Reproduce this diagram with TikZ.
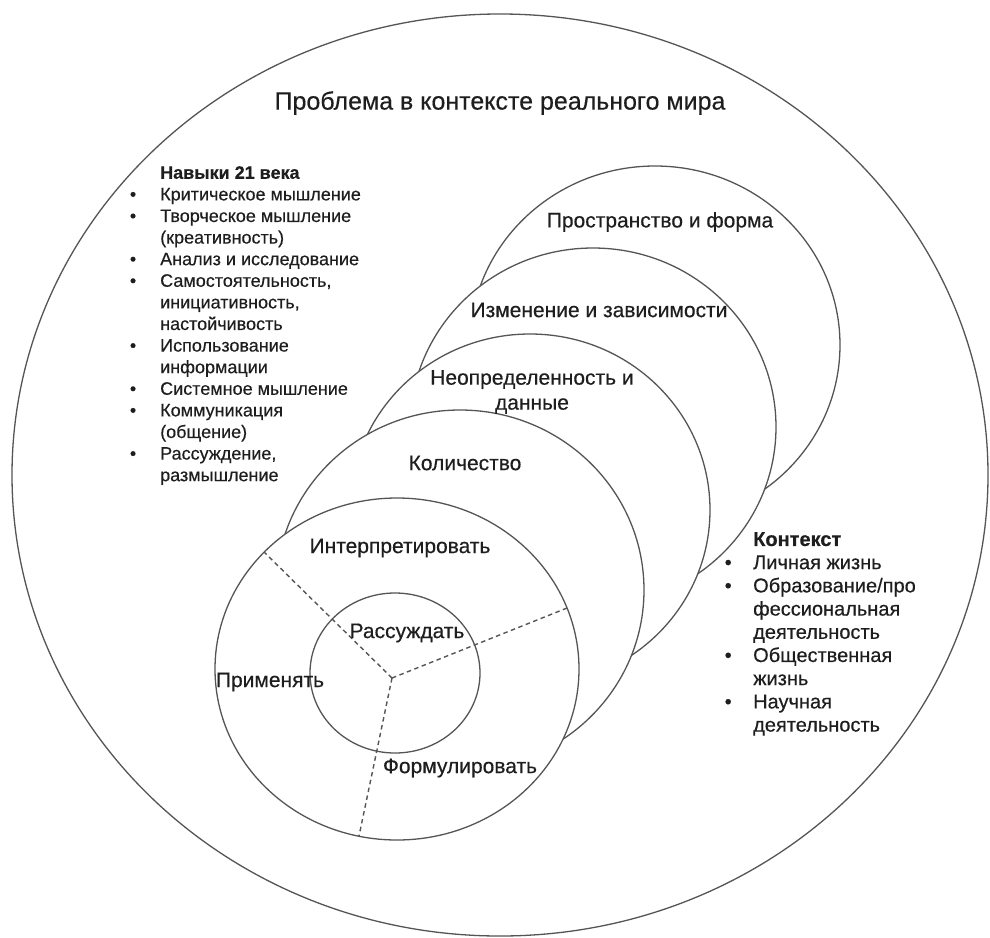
\documentclass[tikz,border=0pt]{standalone}
\usepackage{fontspec}
\setmainfont{Liberation Sans}[FakeBold=0.35]
\definecolor{ink}{HTML}{1E1E1E}
\definecolor{linegray}{HTML}{555555}
\newcommand{\lbul}{\llap{\textbullet\hspace{24pt}}}
\newcommand{\cbul}{\llap{\textbullet\hspace{21.5pt}}}
\begin{document}
\begin{tikzpicture}[x=1pt,y=-1pt,
  ring/.style={draw=linegray, line width=1.3pt, fill=white},
  divider/.style={draw=linegray, line width=1.4pt, dash pattern=on 4.5pt off 3.5pt},
  lbl/.style={inner sep=0pt, text=ink, font=\fontsize{21}{25}\selectfont},
  title/.style={inner sep=0pt, text=ink, font=\fontsize{25}{29}\selectfont},
  skills/.style={inner sep=0pt, text=ink, align=left, anchor=north west, font=\fontsize{18}{21.6}\selectfont},
  ctxlist/.style={inner sep=0pt, text=ink, align=left, anchor=north west, font=\fontsize{20}{23.2}\selectfont}
]
\useasboundingbox (0,0) rectangle (990,937);
\fill[white] (0,0) rectangle (990,937);

% outer circle: real-world context
\draw[ring] (500,475) ellipse [x radius=488pt, y radius=461pt];

% content circles
\draw[ring] (655,345) ellipse [x radius=185pt, y radius=179pt];
\draw[ring] (593,427) ellipse [x radius=183pt, y radius=179pt];
\draw[ring] (530,510) ellipse [x radius=180pt, y radius=176pt];
\draw[ring] (460,590) ellipse [x radius=184pt, y radius=180pt];

% process circles
\draw[ring] (397,669) ellipse [x radius=182pt, y radius=171pt];
\draw[ring] (395,673) ellipse [x radius=85pt, y radius=80pt];

% dividers
\coordinate (ctr) at (392,678);
\coordinate (dA) at (264,552);
\coordinate (dB) at (567,608);
\coordinate (dC) at (359,836);
\draw[divider] (ctr) -- (dA);
\draw[divider] (ctr) -- (dB);
\draw[divider] (ctr) -- (dC);

% labels
\node[title] (head) at (500,103) {Проблема в контексте реального мира};
\node[lbl] (space) at (660,222) {Пространство и форма};
\node[lbl] (change) at (599,310) {Изменение и зависимости};
\node[lbl, align=center] (uncert) at (532,392) {Неопределенность и\\данные};
\node[lbl] (quant) at (465,463) {Количество};
\node[lbl] (interp) at (400,548) {Интерпретировать};
\node[lbl] (reason) at (407,633) {Рассуждать};
\node[lbl] (employ) at (270,682) {Применять};
\node[lbl] (formul) at (460,768) {Формулировать};

\node[skills] (skl) at (160,166) {\textbf{Навыки 21 века}\\
\lbul Критическое мышление\\
\lbul Творческое мышление\\
(креативность)\\
\lbul Анализ и исследование\\
\lbul Самостоятельность,\\
инициативность,\\
настойчивость\\
\lbul Использование\\
информации\\
\lbul Системное мышление\\
\lbul Коммуникация\\
(общение)\\
\lbul Рассуждение,\\
размышление};

\node[ctxlist] (ctx) at (753,532) {\textbf{Контекст}\\
\cbul Личная жизнь\\
\cbul Образование/про\\
фессиональная\\
деятельность\\
\cbul Общественная\\
жизнь\\
\cbul Научная\\
деятельность};
\end{tikzpicture}
\end{document}
